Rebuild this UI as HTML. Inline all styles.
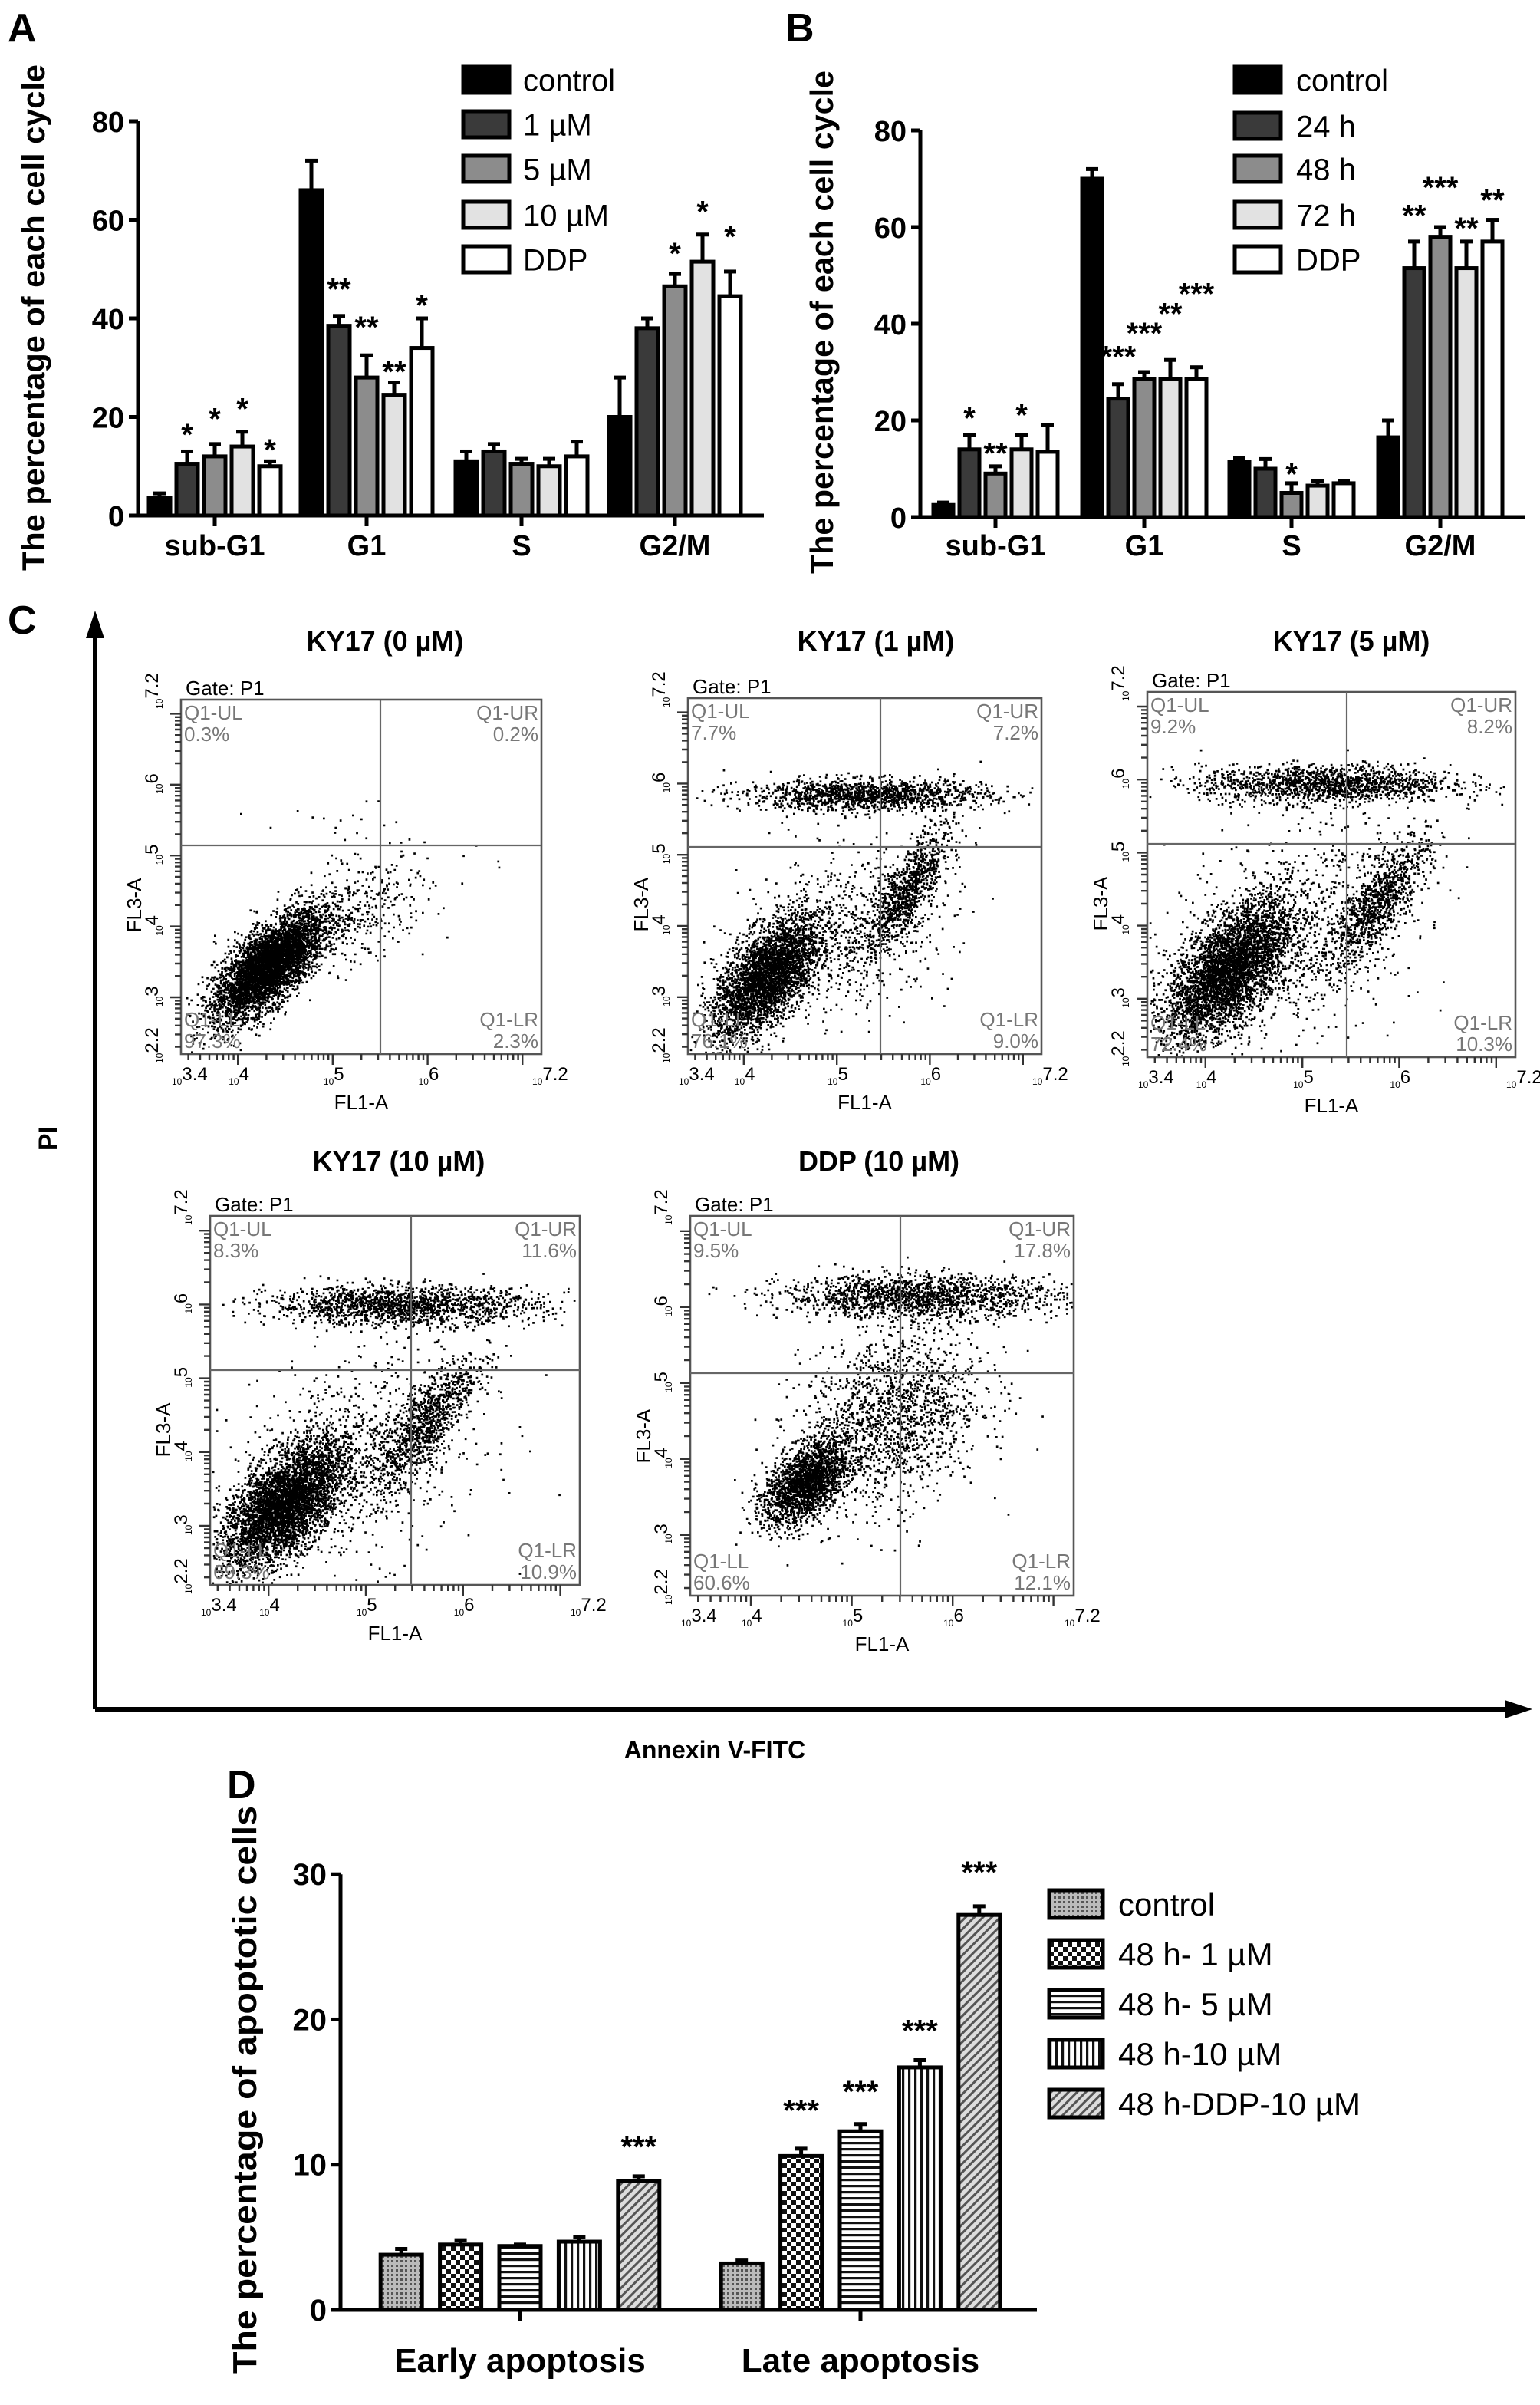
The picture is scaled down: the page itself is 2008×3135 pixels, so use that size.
<!DOCTYPE html>
<html><head><meta charset="utf-8"><style>
html,body{margin:0;padding:0;background:#fff;}
svg{display:block;font-family:"Liberation Sans",Arial,sans-serif;}
</style></head><body>
<svg id="fig" xmlns="http://www.w3.org/2000/svg" width="2008" height="3135" viewBox="0 0 1004 1567.5">
<defs>
<pattern id="pCtrl" width="3" height="3" patternUnits="userSpaceOnUse"><rect width="3" height="3" fill="#bbb"/><rect width="1.5" height="1.5" fill="#555"/></pattern>
<pattern id="p1" width="6" height="6" patternUnits="userSpaceOnUse"><rect width="6" height="6" fill="#fff"/><rect width="3" height="3" fill="#111"/><rect x="3" y="3" width="3" height="3" fill="#111"/></pattern>
<pattern id="p5" width="4" height="4" patternUnits="userSpaceOnUse"><rect width="4" height="4" fill="#fff"/><rect width="4" height="1.6" fill="#111"/></pattern>
<pattern id="p10" width="4" height="4" patternUnits="userSpaceOnUse"><rect width="4" height="4" fill="#fff"/><rect width="1.6" height="4" fill="#111"/></pattern>
<pattern id="pDDP" width="4" height="4" patternUnits="userSpaceOnUse" patternTransform="rotate(45)"><rect width="4" height="4" fill="#ddd"/><rect width="1.5" height="4" fill="#555"/></pattern>
</defs>
<g id="root"></g>
</svg>
<script>
// ---------- Panel A data ----------
const aCategories = ["sub-G1","G1","S","G2/M"];
const aSeries = ["control"," 1 µM"," 5 µM","10 µM","DDP"];
const aValues = [[3.5,10.5,12,14,10],[66,38.5,28,24.5,34],[11,13,10.5,10,12],[20,38,46.5,51.5,44.5]];
const aErrors = [[4.5,13,14.5,17,11],[72,40.5,32.5,27,40],[13,14.5,11.5,11.5,15],[28,40,49,57,49.5]];
const aStars = [["","*","*","*","*"],["","**","**","**","*"],["","","","",""],["","","*","*","*"]];
const aStarAt = [[0,17.8,21,23,14.7],[0,47.3,39.6,30.6,44],[0,0,0,0,0],[0,0,54.5,63,58]];
const aTicks = [0,20,40,60,80];
// ---------- Panel B data ----------
const bCategories = ["sub-G1","G1","S","G2/M"];
const bSeries = ["control","24 h","48 h","72 h","DDP"];
const bValues = [[2.5,14,9,14,13.5],[70,24.5,28.5,28.5,28.5],[11.5,10,5,6.5,7],[16.5,51.5,58,51.5,57]];
const bErrors = [[3,17,10.5,17,19],[72,27.5,30,32.5,31],[12.3,12,7,7.5,7.5],[20,57,60,57,61.5]];
const bStars = [["","*","**","*",""],["","***","***","**","***"],["","","*","",""],["","**","***","**","**"]];
const bStarAt = [[0,21.9,14.6,22.5,0],[0,34.6,39.4,43.5,47.6],[0,0,10.3,0,0],[0,63.8,69.6,61.2,67]];
const bTicks = [0,20,40,60,80];
// ---------- Panel D data ----------
const dCategories = ["Early apoptosis","Late apoptosis"];
const dSeries = ["control","48 h- 1 µM","48 h- 5 µM","48 h-10 µM","48 h-DDP-10 µM"];
const dValues = [[3.8,4.5,4.4,4.7,8.9],[3.2,10.6,12.3,16.7,27.2]];
const dErrors = [[4.2,4.8,4.5,5.0,9.2],[3.4,11.1,12.8,17.2,27.8]];
const dStars = [["","","","","***"],["","***","***","***","***"]];
const dStarAt = [[0,0,0,0,11.7],[0,14.2,15.5,19.7,30.6]];
const dTicks = [0,10,20,30];
// ---------- Panel C data ----------
const flowTitles = ["KY17 (0 µM)","KY17 (1 µM)","KY17 (5 µM)","KY17 (10 µM)","DDP (10 µM)"];
const flowUL = ["0.3%","7.7%","9.2%","8.3%","9.5%"];
const flowUR = ["0.2%","7.2%","8.2%","11.6%","17.8%"];
const flowLL = ["97.3%","76.1%","72.4%","69.3%","60.6%"];
const flowLR = ["2.3%","9.0%","10.3%","10.9%","12.1%"];
const flowPops = [
 [[0.24,0.25,0.075,0.075,0.7,4500],[0.45,0.38,0.12,0.08,0.5,450],[0.5,0.62,0.15,0.04,0,25]],
 [[0.22,0.22,0.075,0.085,0.6,3300],[0.62,0.46,0.06,0.09,0.8,900],[0.45,0.35,0.15,0.12,0.3,700],[0.5,0.73,0.17,0.022,0,1400]],
 [[0.22,0.24,0.085,0.095,0.6,3900],[0.62,0.42,0.07,0.09,0.8,1000],[0.4,0.35,0.17,0.15,0.3,800],[0.48,0.75,0.17,0.026,0,1500]],
 [[0.2,0.22,0.085,0.085,0.6,4200],[0.58,0.44,0.07,0.09,0.8,1000],[0.4,0.35,0.17,0.15,0.3,800],[0.52,0.76,0.18,0.026,0,1600]],
 [[0.3,0.3,0.055,0.055,0.5,2000],[0.52,0.47,0.12,0.12,0.3,1600],[0.6,0.79,0.18,0.028,0,1600]]
];

const NS="http://www.w3.org/2000/svg";
const root=document.getElementById('root');
function el(tag,attrs,parent,txt){const e=document.createElementNS(NS,tag);for(const k in attrs)e.setAttribute(k,attrs[k]);if(txt!==undefined)e.textContent=txt;(parent||root).appendChild(e);return e;}

function barChart(o){
  const g=el('g',{});
  
  
  const y=v=>o.y0-(v-0)*(o.y0-o.yTop)/(o.vMax);
  const ya=el('line',{x1:o.x0,y1:y(o.vMax),x2:o.x0,y2:o.y0,stroke:'#000','stroke-width':2.5},g);
  
  
  const xa=el('line',{x1:o.x0,y1:o.y0,x2:o.x1,y2:o.y0,stroke:'#000','stroke-width':2.5},g);
  
  
  o.ticks.forEach(t=>{
    el('line',{x1:o.x0-6,y1:y(t),x2:o.x0,y2:y(t),stroke:'#000','stroke-width':2.5},g);
    const tl=el('text',{x:o.x0-9,y:y(t)+7,'text-anchor':'end','font-size':o.tickFs,'font-weight':'bold'},g,String(t));
    
    
  });
  o.cats.forEach((c,ci)=>{
    const gx=o.gx[ci];
    el('line',{x1:gx,y1:o.y0,x2:gx,y2:o.y0+7,stroke:'#000','stroke-width':2.5},g);
    const cl=el('text',{x:gx,y:o.catY,'text-anchor':'middle','font-size':o.catFs,'font-weight':'bold'},g,c);
    
    
    o.vals[ci].forEach((v,si)=>{
      const cx=gx+(si-2)*o.sp, w=o.bw;
      const e=o.errs[ci][si];
      if(e>v){
        el('line',{x1:cx,y1:y(v),x2:cx,y2:y(e),stroke:'#000','stroke-width':2.5},g);
        el('line',{x1:cx-4,y1:y(e),x2:cx+4,y2:y(e),stroke:'#000','stroke-width':2.5},g);
      }
      const r=el('rect',{x:cx-w/2,y:y(v),width:w,height:y(0)-y(v),fill:o.fills[si],stroke:'#000','stroke-width':2.5},g);
      
      
      const s=o.stars[ci][si];
      if(s){
        const st=el('text',{x:cx,y:y(o.starAt[ci][si])+0.56*o.starFs,'text-anchor':'middle','font-size':o.starFs,'font-weight':'bold'},g,s);
        
        
      }
    });
  });
  o.series.forEach((s,i)=>{
    const ly=o.legY[i];
    const sw=el('rect',{x:o.legX,y:ly-o.swH/2,width:o.swW,height:o.swH,fill:o.fills[i],stroke:'#000','stroke-width':2.5},g);
    
    
    const lt=el('text',{x:o.legTX,y:ly+o.legFs*0.36,'font-size':o.legFs},g,s);
    
    
  });
  const t=el('text',{x:0,y:0,'font-size':o.titleFs,'font-weight':'bold','text-anchor':'middle',textLength:o.titleLen,lengthAdjust:'spacingAndGlyphs',transform:`translate(${o.titleX},${o.titleY}) rotate(-90)`},g,o.title);
  
  
}

const greyFills=['#000','#3a3a3a','#8c8c8c','#e2e2e2','#fff'];
barChart({name:'chart-a',x0:90,x1:498,y0:336,yTop:79,vMax:80,ticks:aTicks,tickFs:19,cats:aCategories,gx:[140,239,340,440],catY:362,catFs:19,
  vals:aValues,errs:aErrors,stars:aStars,starAt:aStarAt,starFs:20,sp:18,bw:14,fills:greyFills,series:aSeries,
  legX:302,legY:[52,81,110,140,169],swW:30,swH:17,legTX:341,legFs:20,title:'The percentage of each cell cycle',titleFs:21,titleLen:330,titleX:29,titleY:207});
barChart({name:'chart-b',x0:600,x1:994,y0:337,yTop:85,vMax:80,ticks:bTicks,tickFs:19,cats:bCategories,gx:[649,746,842,939],catY:362,catFs:19,
  vals:bValues,errs:bErrors,stars:bStars,starAt:bStarAt,starFs:20,sp:17,bw:13,fills:greyFills,series:bSeries,
  legX:805,legY:[52,82,110,140,169],swW:30,swH:17,legTX:845,legFs:20,title:'The percentage of each cell cycle',titleFs:21,titleLen:328,titleX:543,titleY:210});
barChart({name:'chart-d',x0:222,x1:676,y0:1505.5,yTop:1221.6,vMax:30,ticks:dTicks,tickFs:20,cats:dCategories,gx:[339,561],catY:1546,catFs:22,
  vals:dValues,errs:dErrors,stars:dStars,starAt:dStarAt,starFs:20,sp:38.7,bw:27,fills:['url(#pCtrl)','url(#p1)','url(#p5)','url(#p10)','url(#pDDP)'],series:dSeries,
  legX:684,legY:[1241,1273.5,1306,1338.5,1371],swW:35,swH:18,legTX:729,legFs:21,title:'The  percentage of apoptotic cells',titleFs:22,titleLen:370,titleX:167,titleY:1362});

[['A',5,27],['B',512,27],['C',5,413],['D',148,1172]].forEach(p=>{
  const t=el('text',{x:p[1],y:p[2],'font-size':26,'font-weight':'bold'},root,p[0]);
  
  
});

// ---------- Panel C ----------
const frames=[[118,456,353,687,248,551,251,418],[448.5,455,679,687,574,552,571,418],[748,451,988,689,878,550,881,418],[137,792.5,378,1033,268,893,260,757],[450,792.5,700,1040,587,895,573,757]];
let seed=12345;
function rnd(){seed=(seed*1103515245+12345)%2147483648;return seed/2147483648;}
function gauss(){let u=rnd()||1e-9,v=rnd();return Math.sqrt(-2*Math.log(u))*Math.cos(2*Math.PI*v);}
const axC=el('g',{});


el('line',{x1:62,y1:1114,x2:62,y2:412,stroke:'#000','stroke-width':3},axC);
el('polygon',{points:'62,398 56,416 68,416',fill:'#000'},axC);
el('line',{x1:62,y1:1114,x2:985,y2:1114,stroke:'#000','stroke-width':3},axC);
el('polygon',{points:'999,1114 981,1108 981,1120',fill:'#000'},axC);
const pi=el('text',{x:0,y:0,'font-size':17,'font-weight':'bold','text-anchor':'middle',transform:'translate(37,742) rotate(-90)'},axC,'PI');


const an=el('text',{x:466,y:1146,'font-size':16,'font-weight':'bold','text-anchor':'middle'},axC,'Annexin V-FITC');



frames.forEach((f,pi_)=>{
  const [x0,y0,x1,y1,qx,qy,tx,ty]=f;
  const g=el('g',{});
  
  
  const W=x1-x0,H=y1-y0;
  const tt=el('text',{x:tx,y:ty+6,'font-size':18,'font-weight':'bold','text-anchor':'middle'},g,flowTitles[pi_]);
  
  
  el('text',{x:x0+3,y:y0-3,'font-size':13},g,'Gate: P1');
  let d='';
  flowPops[pi_].forEach(p=>{
    const [cx,cy,sx,sy,rho,n]=p;
    for(let k=0;k<n;k++){
      const z1=gauss(),z2=gauss();
      const nx=cx+sx*z1, ny=cy+sy*(rho*z1+Math.sqrt(1-rho*rho)*z2);
      if(nx<0.005||nx>0.995||ny<0.005||ny>0.995)continue;
      d+='M'+(x0+nx*W).toFixed(1)+' '+(y1-ny*H).toFixed(1)+'h1.35v1.35h-1.35z';
    }
  });
  const dots=el('path',{d:d,fill:'#000'},g);
  
  
  el('rect',{x:x0,y:y0,width:W,height:H,fill:'none',stroke:'#555','stroke-width':1.3},g);
  el('line',{x1:qx,y1:y0,x2:qx,y2:y1,stroke:'#666','stroke-width':1.1},g);
  el('line',{x1:x0,y1:qy,x2:x1,y2:qy,stroke:'#666','stroke-width':1.1},g);
  const qa={'font-size':13,fill:'#777'};
  el('text',Object.assign({x:x0+2,y:y0+13},qa),g,'Q1-UL');
  el('text',Object.assign({x:x0+2,y:y0+27},qa),g,flowUL[pi_]);
  el('text',Object.assign({x:x1-2,y:y0+13,'text-anchor':'end'},qa),g,'Q1-UR');
  el('text',Object.assign({x:x1-2,y:y0+27,'text-anchor':'end'},qa),g,flowUR[pi_]);
  el('text',Object.assign({x:x0+2,y:y1-18},qa),g,'Q1-LL');
  el('text',Object.assign({x:x0+2,y:y1-4},qa),g,flowLL[pi_]);
  el('text',Object.assign({x:x1-2,y:y1-18,'text-anchor':'end'},qa),g,'Q1-LR');
  el('text',Object.assign({x:x1-2,y:y1-4,'text-anchor':'end'},qa),g,flowLR[pi_]);
  const lx=v=>x0+(v-3.4)/3.8*W, ly=v=>y1-(v-2.2)/5*H;
  let td='';
  for(let dec=3;dec<=7;dec++)for(let m=1;m<10;m++){const v=dec+Math.log10(m);if(v<3.4||v>7.2)continue;const xx=lx(v);td+=`M${xx.toFixed(1)} ${y1}v${m===1?7:4}`;}
  for(let dec=2;dec<=7;dec++)for(let m=1;m<10;m++){const v=dec+Math.log10(m);if(v<2.2||v>7.2)continue;const yy=ly(v);td+=`M${x0} ${yy.toFixed(1)}h${m===1?-7:-4}`;}
  el('path',{d:td,stroke:'#333','stroke-width':1.2,fill:'none'},g);
  [[3.4,'3.4'],[4,'4'],[5,'5'],[6,'6'],[7.2,'7.2']].forEach(t=>{
    const tx_=el('text',{x:lx(t[0])-6,y:y1+20,'font-size':12},g);
    const s1=document.createElementNS(NS,'tspan');s1.setAttribute('font-size','6');s1.textContent='10';tx_.appendChild(s1);
    const s2=document.createElementNS(NS,'tspan');s2.setAttribute('dy','-3');s2.textContent=t[1];tx_.appendChild(s2);
  });
  [[2.2,'2.2'],[3,'3'],[4,'4'],[5,'5'],[6,'6'],[7.2,'7.2']].forEach(t=>{
    const tx_=el('text',{x:0,y:0,'font-size':12,transform:`translate(${x0-12},${ly(t[0])+6}) rotate(-90)`},g);
    const s1=document.createElementNS(NS,'tspan');s1.setAttribute('font-size','6');s1.textContent='10';tx_.appendChild(s1);
    const s2=document.createElementNS(NS,'tspan');s2.setAttribute('dy','-3');s2.textContent=t[1];tx_.appendChild(s2);
  });
  el('text',{x:(x0+x1)/2,y:y1+36,'font-size':13,'text-anchor':'middle'},g,'FL1-A');
  el('text',{x:0,y:0,'font-size':13,'text-anchor':'middle',transform:`translate(${x0-26},${y0+H*0.58}) rotate(-90)`},g,'FL3-A');
});
</script>
</body></html>
